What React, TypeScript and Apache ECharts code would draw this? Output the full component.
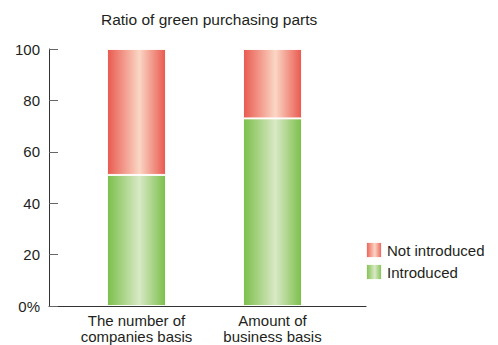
import React, { useEffect, useRef } from "react";
import * as echarts from "echarts";

const categories = ["The number of\ncompanies basis", "Amount of\nbusiness basis"];
const introduced = [51, 73];
const notIntroduced = [49, 27];
const yTicks = { min: 0, max: 100, interval: 20 };

const FONT = "'Liberation Sans', Arial, sans-serif";
const TEXT = "#231f20";

const barGradient = (edge: string, mid: string) =>
  new echarts.graphic.LinearGradient(0, 0, 1, 0, [
    { offset: 0, color: edge },
    { offset: 0.55, color: mid },
    { offset: 1, color: edge },
  ]);

export default function App() {
  const ref = useRef<HTMLDivElement>(null);

  useEffect(() => {
    if (!ref.current) return;
    const chart = echarts.init(ref.current, null, { renderer: "svg" });
    const green = barGradient("#7bbf4a", "#d9e9c6");
    const red = barGradient("#e9594f", "#fbd6c4");
    const top = 49;
    const bottom = 39;

    chart.setOption({
      animation: false,
      backgroundColor: "#ffffff",
      textStyle: { fontFamily: FONT },
      title: {
        text: "Ratio of green purchasing parts",
        left: 96,
        top: 6,
        textStyle: { fontFamily: FONT, fontSize: 15.5, fontWeight: "normal", color: TEXT },
      },
      legend: {
        orient: "vertical",
        left: 360,
        top: 236,
        itemWidth: 16,
        itemHeight: 16,
        itemGap: 4,
        icon: "rect",
        data: ["Not introduced", "Introduced"],
        textStyle: { fontFamily: FONT, fontSize: 15, color: TEXT },
      },
      grid: [
        // bars and category labels
        { left: 68.5, width: 272, top, bottom, outerBoundsMode: "none", containLabel: false },
        // axis frame
        { left: 49, width: 317, top, bottom, outerBoundsMode: "none", containLabel: false },
      ],
      xAxis: [
        {
          type: "category",
          gridIndex: 0,
          data: categories,
          axisLine: { show: false },
          axisTick: { show: false },
          axisLabel: {
            interval: 0,
            margin: 6,
            fontFamily: FONT,
            fontSize: 15,
            lineHeight: 16,
            color: TEXT,
            hideOverlap: false,
          },
        },
        {
          type: "value",
          gridIndex: 1,
          min: 0,
          max: 1,
          axisLine: { show: true, lineStyle: { color: "#333", width: 1 } },
          axisTick: { show: false },
          axisLabel: { show: false },
          splitLine: { show: false },
        },
      ],
      yAxis: [
        {
          type: "value",
          gridIndex: 0,
          ...yTicks,
          show: false,
          splitLine: { show: false },
        },
        {
          type: "value",
          gridIndex: 1,
          ...yTicks,
          axisLine: { show: true, lineStyle: { color: "#333", width: 1 } },
          axisTick: { show: true, inside: true, length: 9, lineStyle: { color: "#666" } },
          splitLine: { show: false },
          axisLabel: {
            margin: 9,
            fontFamily: FONT,
            fontSize: 15,
            color: TEXT,
            formatter: (v: number) => (v === 0 ? "0%" : String(v)),
          },
        },
      ],
      series: [
        {
          name: "Introduced",
          type: "bar",
          stack: "ratio",
          xAxisIndex: 0,
          yAxisIndex: 0,
          barWidth: 59,
          data: introduced,
          itemStyle: { color: green, borderColor: "rgba(255,255,255,0.9)", borderWidth: 1 },
        },
        {
          name: "Not introduced",
          type: "bar",
          stack: "ratio",
          xAxisIndex: 0,
          yAxisIndex: 0,
          barWidth: 59,
          data: notIntroduced,
          itemStyle: { color: red, borderColor: "rgba(255,255,255,0.9)", borderWidth: 1 },
        },
      ],
    });

    return () => chart.dispose();
  }, []);

  return (
    <div
      ref={ref}
      style={{ position: "absolute", left: 0, top: 0, width: 498, height: 345 }}
    />
  );
}
